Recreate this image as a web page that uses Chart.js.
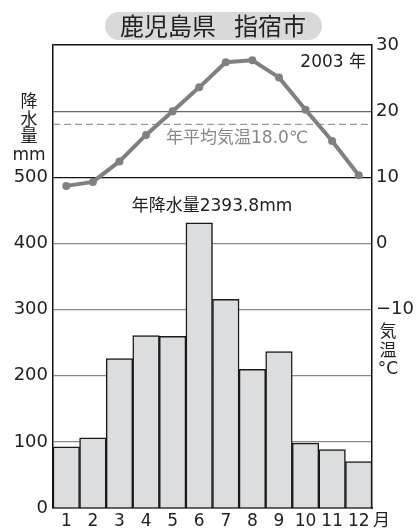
<!DOCTYPE html>
<html>
<head>
<meta charset="utf-8">
<script src="https://cdn.jsdelivr.net/npm/chart.js@4/dist/chart.umd.min.js"></script>
<style>
  body { margin: 0; background: #fff; }
  #wrap { width: 418px; height: 528px; }
</style>
</head>
<body>
<div id="wrap"><canvas id="c" width="418" height="528"></canvas></div>
<script>
const months = ['1', '2', '3', '4', '5', '6', '7', '8', '9', '10', '11', '12'];
const rainfall = [92.5, 106, 226, 260.5, 259.5, 431, 315.5, 209.5, 236.5, 98, 88.5, 70.3];
const temperature = [8.7, 9.3, 12.4, 16.4, 20.0, 23.6, 27.4, 27.7, 25.1, 20.2, 15.5, 10.3];
const avgTemp = 18.0;
const rainTicks = [0, 100, 200, 300, 400, 500];
const tempTicks = [30, 20, 10, 0, -10];

const FONT = '"DejaVu Sans", "Noto Sans CJK JP", sans-serif';
const CJK = '"Noto Sans CJK JP", sans-serif';
const INK = '#222';

// extra text, title pill and the dashed mean line
const decorations = {
    id: 'decorations',
    beforeDatasetsDraw(chart) {
        const ctx = chart.ctx;
        const area = chart.chartArea;
        const y2 = chart.scales.y2;
        const yAvg = y2.getPixelForValue(avgTemp);
        ctx.save();
        ctx.strokeStyle = '#999';
        ctx.lineWidth = 1.3;
        ctx.setLineDash([7, 4]);
        ctx.beginPath();
        ctx.moveTo(area.left, yAvg);
        ctx.lineTo(area.right, yAvg);
        ctx.stroke();
        ctx.setLineDash([]);

        ctx.fillStyle = '#888';
        ctx.font = '17px ' + FONT;
        ctx.textAlign = 'center';
        ctx.textBaseline = 'middle';
        ctx.fillText('年平均気温' + avgTemp.toFixed(1) + '℃', 237, yAvg + 14);
        ctx.restore();
    },
    afterDraw(chart) {
        const ctx = chart.ctx;
        const area = chart.chartArea;
        ctx.save();
        // title pill
        ctx.fillStyle = '#d9d9d9';
        ctx.beginPath();
        ctx.roundRect(105, 12, 217, 28, 14);
        ctx.fill();
        ctx.fillStyle = INK;
        ctx.font = '24px ' + CJK;
        ctx.textBaseline = 'middle';
        ctx.textAlign = 'left';
        ctx.fillText('鹿児島県', 120, 26);
        ctx.fillText('指宿市', 234, 26);

        ctx.font = '17px ' + FONT;
        ctx.textAlign = 'right';
        ctx.fillText('2003 年', 366, 63);

        ctx.font = '17px ' + FONT;
        ctx.textAlign = 'center';
        ctx.fillText('年降水量' + rainfall.reduce((a, b) => a + b, 0).toFixed(1) + 'mm', 212, 207);

        // axis titles, stacked
        ctx.font = '17px ' + FONT;
        ['降', '水', '量', 'mm'].forEach((t, i) => ctx.fillText(t, 29, 103 + i * 17.5));
        ['気', '温', '°C'].forEach((t, i) => ctx.fillText(t, 388, 333 + i * 18.5));

        ctx.textAlign = 'left';
        ctx.fillText('月', area.right + 1, 522);
        ctx.restore();
    }
};

new Chart(document.getElementById('c'), {
    data: {
        labels: months,
        datasets: [
            {
                type: 'line',
                data: temperature,
                yAxisID: 'y2',
                borderColor: '#808080',
                backgroundColor: '#808080',
                borderWidth: 4,
                pointRadius: 4,
                pointBorderWidth: 0,
                tension: 0,
                order: 1
            },
            {
                type: 'bar',
                data: rainfall,
                yAxisID: 'y',
                backgroundColor: '#dcdddf',
                borderColor: '#1a1a1a',
                borderWidth: 1.5,
                barPercentage: 1,
                categoryPercentage: 1,
                order: 2
            }
        ]
    },
    options: {
        responsive: false,
        animation: false,
        layout: { padding: { top: 45 } },
        plugins: { legend: { display: false }, tooltip: { enabled: false } },
        scales: {
            x: {
                grid: { display: false },
                border: { display: true, color: '#111', width: 1.5 },
                ticks: { color: INK, font: { family: FONT, size: 17 }, padding: -5, maxRotation: 0, autoSkip: false },
                afterFit: s => { s.height = 20; }
            },
            y: {
                position: 'left',
                min: 0,
                max: 700,
                grid: {
                    drawTicks: false,
                    color: c => [0, 500, 700].includes(c.tick.value) ? '#111' : (c.tick.value === 600 ? '#666' : '#8a8a8a'),
                    lineWidth: c => c.tick.value === 700 ? 1.5 : 1.2
                },
                border: { display: true, color: '#111', width: 1.5 },
                ticks: {
                    stepSize: 100,
                    padding: 5,
                    color: INK,
                    font: { family: FONT, size: 18 },
                    callback: v => rainTicks.includes(v) ? v : ''
                },
                afterFit: s => { s.width = 53; }
            },
            y2: {
                position: 'right',
                min: -40,
                max: 30,
                grid: { display: false, drawTicks: false },
                border: { display: true, color: '#111', width: 1.5 },
                ticks: {
                    stepSize: 10,
                    padding: 4,
                    color: INK,
                    font: { family: FONT, size: 18 },
                    callback: v => tempTicks.includes(v) ? (v < 0 ? '−' + Math.abs(v) : v) : ''
                },
                afterFit: s => { s.width = 46; }
            }
        }
    },
    plugins: [decorations]
});
</script>
</body>
</html>
